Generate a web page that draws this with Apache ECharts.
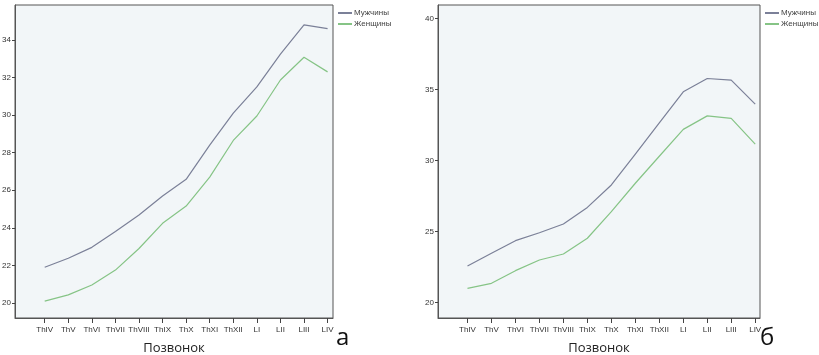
<!DOCTYPE html>
<html>
<head>
<meta charset="utf-8">
<script src="https://cdn.jsdelivr.net/npm/echarts@6/dist/echarts.min.js"></script>
<style>
  html, body { margin: 0; padding: 0; background: #fff; }
  #chart { width: 819px; height: 355px; }
</style>
</head>
<body>
<div id="chart"></div>
<script>
// позвонки
const vertebrae = ['ThIV', 'ThV', 'ThVI', 'ThVII', 'ThVIII', 'ThIX', 'ThX', 'ThXI', 'ThXII', 'LI', 'LII', 'LIII', 'LIV'];

// а
const menA = [21.9, 22.38, 22.96, 23.8, 24.68, 25.69, 26.58, 28.4, 30.1, 31.5, 33.25, 34.8, 34.6];
const womenA = [20.1, 20.43, 20.96, 21.75, 22.9, 24.24, 25.16, 26.7, 28.65, 29.95, 31.87, 33.08, 32.3];
const yTicksA = [20, 22, 24, 26, 28, 30, 32, 34];

// б
const menB = [22.58, 23.47, 24.36, 24.92, 25.53, 26.7, 28.28, 30.45, 32.65, 34.83, 35.77, 35.65, 33.97];
const womenB = [21.01, 21.36, 22.25, 23.0, 23.42, 24.53, 26.4, 28.4, 30.3, 32.19, 33.14, 32.96, 31.15];
const yTicksB = [20, 25, 30, 35, 40];

const names = ['Мужчины', 'Женщины'];
const colMen = '#7b8098';
const colWomen = '#86c486';
const idx = vertebrae.map((v, i) => i);

const myChart = echarts.init(document.getElementById('chart'));

const xAxisBase = (gi, min, max) => ({
  type: 'value',
  gridIndex: gi,
  min: min,
  max: max,
  splitLine: { show: false },
  axisLine: { show: true, onZero: false, lineStyle: { color: '#555', width: 1 } },
  axisTick: { show: true, inside: false, customValues: idx, length: 5, lineStyle: { color: '#444' } },
  axisLabel: {
    customValues: idx,
    formatter: v => vertebrae[Math.round(v)],
    fontSize: 8,
    color: '#333',
    margin: 8,
    fontFamily: 'Liberation Sans'
  },
  name: 'Позвонок',
  nameLocation: 'middle',
  nameGap: 24,
  nameTextStyle: { fontSize: 13, color: '#222', fontFamily: 'Open Sans' }
});

const yAxisBase = (gi, min, max, ticks) => ({
  type: 'value',
  gridIndex: gi,
  min: min,
  max: max,
  splitLine: { show: false },
  axisLine: { show: true, onZero: false, lineStyle: { color: '#555', width: 1 } },
  axisTick: { show: true, inside: false, customValues: ticks, length: 3, lineStyle: { color: '#444' } },
  axisLabel: {
    customValues: ticks,
    fontSize: 8,
    color: '#333',
    margin: 4,
    fontFamily: 'Liberation Sans'
  }
});

const lineSeries = (name, vals, color, gi) => ({
  name: name,
  type: 'line',
  xAxisIndex: gi,
  yAxisIndex: gi,
  data: vals.map((v, i) => [i, v]),
  symbol: 'none',
  lineStyle: { color: color, width: 1.2 },
  itemStyle: { color: color },
  animation: false
});

const legendBase = (left) => ({
  data: names,
  orient: 'vertical',
  left: left,
  top: 4,
  itemWidth: 14,
  itemHeight: 2,
  itemGap: 3,
  icon: 'rect',
  textStyle: { fontSize: 8, color: '#444', fontFamily: 'Liberation Sans', padding: [0, 0, 0, -3] }
});

const option = {
  backgroundColor: '#fff',
  animation: false,
  grid: [
    { left: 15, top: 5, width: 318, height: 313, outerBoundsMode: 'none', containLabel: false, show: true, backgroundColor: '#f2f6f8', borderColor: '#555', borderWidth: 1 },
    { left: 438, top: 5, width: 322, height: 313, outerBoundsMode: 'none', containLabel: false, show: true, backgroundColor: '#f2f6f8', borderColor: '#555', borderWidth: 1 }
  ],
  legend: [legendBase(333), legendBase(760)],
  xAxis: [
    xAxisBase(0, -1.26, 12.23),
    xAxisBase(1, -1.23, 12.2)
  ],
  yAxis: [
    yAxisBase(0, 19.2, 35.86, yTicksA),
    yAxisBase(1, 18.92, 40.94, yTicksB)
  ],
  series: [
    lineSeries(names[0], menA, colMen, 0),
    lineSeries(names[1], womenA, colWomen, 0),
    lineSeries(names[0], menB, colMen, 1),
    lineSeries(names[1], womenB, colWomen, 1)
  ],
  graphic: [
    { type: 'text', left: 336, top: 326, style: { text: 'а', fontSize: 24, fill: '#111', fontFamily: 'Open Sans' } },
    { type: 'text', left: 760, top: 326, style: { text: 'б', fontSize: 24, fill: '#111', fontFamily: 'Open Sans' } }
  ]
};

myChart.setOption(option);
</script>
</body>
</html>
